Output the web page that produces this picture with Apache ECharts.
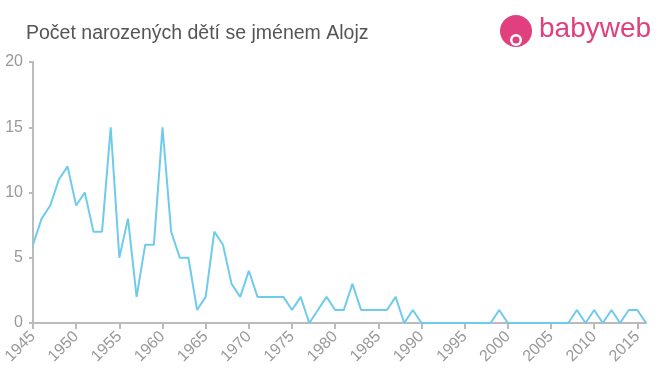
<!DOCTYPE html>
<html><head><meta charset="utf-8">
<script src="https://cdn.jsdelivr.net/npm/echarts@6/dist/echarts.min.js"></script>
<style>html,body{margin:0;padding:0;background:#fff}#c{width:660px;height:375px}</style>
</head><body><div id="c"></div>
<script>
const years = [];
for (let y = 1945; y <= 2016; y++) years.push(String(y));
const counts = [
 6,8,9,11,12,9,10,7,7,15,
 5,8,2,6,6,15,7,5,5,1,
 2,7,6,3,2,4,2,2,2,2,
 1,2,0,1,2,1,1,3,1,1,
 1,1,2,0,1,0,0,0,0,0,
 0,0,0,0,1,0,0,0,0,0,
 0,0,0,1,0,1,0,1,0,1,
 1,0
];
const titleText = 'Počet narozených dětí se jménem Alojz';
const chart = echarts.init(document.getElementById('c'));
chart.setOption({
  animation: false,
  title: {text: titleText, left: 21, top: 19, textStyle: {fontFamily: 'Arial, Liberation Sans, sans-serif', fontSize: 19.5, fontWeight: 'normal', color: '#555'}},
  grid: {left: 33, right: 14, top: 62, bottom: 52},
  xAxis: {
    type: 'category', data: years, boundaryGap: false,
    axisLine: {lineStyle: {color: '#bbb', width: 2}},
    axisTick: {show: true, interval: (i, v) => (+v) % 5 === 0, length: 6, lineStyle: {color: '#bbb', width: 2}},
    axisLabel: {interval: (i, v) => (+v) % 5 === 0, rotate: 45, color: '#999', fontSize: 16, fontFamily: 'Arial, Liberation Sans, sans-serif', margin: 11},
    splitLine: {show: false}
  },
  yAxis: {
    type: 'value', min: 0, max: 20, interval: 5,
    axisLine: {show: true, lineStyle: {color: '#bbb', width: 2}},
    axisTick: {show: true, length: 4, lineStyle: {color: '#bbb', width: 2}},
    axisLabel: {color: '#999', fontSize: 16, fontFamily: 'Arial, Liberation Sans, sans-serif', margin: 10},
    splitLine: {show: false}
  },
  series: [{type: 'line', data: counts, showSymbol: false, symbol: 'none', lineStyle: {color: '#6fcbec', width: 2}}],
  graphic: [
    {type: 'circle', shape: {cx: 516, cy: 31, r: 16}, style: {fill: '#e0407e'}},
    {type: 'circle', shape: {cx: 516, cy: 40, r: 6}, style: {fill: '#fff'}},
    {type: 'circle', shape: {cx: 516, cy: 40, r: 3.5}, style: {fill: '#e0407e'}},
    {type: 'text', left: 539, top: 15, style: {text: 'babyweb', fill: '#e0407e', font: '28px Arial, Liberation Sans, sans-serif'}}
  ]
});
</script></body></html>
